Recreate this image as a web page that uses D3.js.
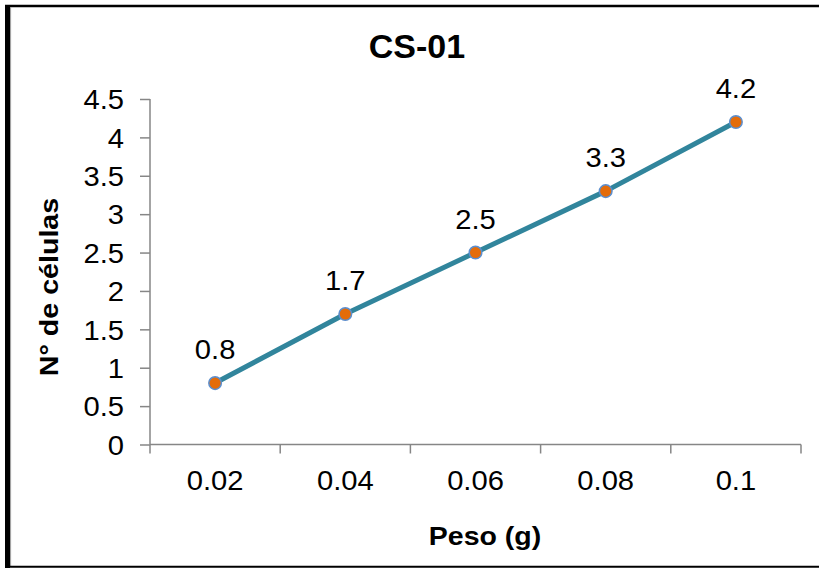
<!DOCTYPE html>
<html>
<head>
<meta charset="utf-8">
<script src="https://cdn.jsdelivr.net/npm/d3@7/dist/d3.min.js"></script>
<style>
  html, body { margin: 0; padding: 0; background: #fff; }
  svg { display: block; }
  text { font-family: "Liberation Sans", Arial, sans-serif; fill: #000; }
</style>
</head>
<body>
<svg id="chart" width="819" height="568"></svg>
<script>
// Cell counts measured for each sample weight
const pesos = ["0.02", "0.04", "0.06", "0.08", "0.1"];
const celulas = [0.8, 1.7, 2.5, 3.3, 4.2];
const yTicks = [0, 0.5, 1, 1.5, 2, 2.5, 3, 3.5, 4, 4.5];
const titulo = "CS-01";
const tituloX = "Peso (g)";
const tituloY = "N° de células";

const svg = d3.select("#chart");
const W = 819, H = 568;
const m = { left: 150, right: 18, top: 99, bottom: 123.5 };
const stretch = 1.08; // slightly wide number glyphs

// Frame around the chart area
svg.append("rect").attr("x", 0).attr("y", 0).attr("width", W).attr("height", H).attr("fill", "#fff");
svg.append("line").attr("x1", 5).attr("x2", W).attr("y1", 6).attr("y2", 6)
  .attr("stroke", "#000").attr("stroke-width", 2.5);
svg.append("line").attr("x1", 7.5).attr("x2", 7.5).attr("y1", 5).attr("y2", 568)
  .attr("stroke", "#000").attr("stroke-width", 5);
svg.append("line").attr("x1", 10.6).attr("x2", 10.6).attr("y1", 7).attr("y2", 566)
  .attr("stroke", "#9a9a9a").attr("stroke-width", 1);
svg.append("line").attr("x1", 5).attr("x2", W).attr("y1", 566.8).attr("y2", 566.8)
  .attr("stroke", "#000").attr("stroke-width", 2);

const x = d3.scaleBand().domain(pesos).range([m.left, W - m.right]);
const y = d3.scaleLinear().domain([0, 4.5]).range([H - m.bottom, m.top]);

const axisColor = "#868686";
const tickFont = 27;

// Y axis
const gy = svg.append("g").attr("transform", `translate(${m.left},0)`)
  .call(d3.axisLeft(y).tickValues(yTicks).tickSize(10).tickPadding(16)
    .tickFormat(d => String(d)));
gy.select(".domain").attr("stroke", axisColor).attr("stroke-width", 1.5)
  .attr("d", `M0,${y(4.5)}V${y(0)}`);
gy.selectAll(".tick line").attr("stroke", axisColor).attr("stroke-width", 1.5);
gy.selectAll(".tick text").attr("font-size", tickFont).attr("font-family", "Liberation Sans, Arial, sans-serif")
  .attr("fill", "#000").attr("dy", "0.36em")
  .attr("x", -26 / stretch).attr("transform", `scale(${stretch},1)`);

// X axis: ticks sit on category boundaries
const gx = svg.append("g").attr("transform", `translate(0,${y(0)})`)
  .call(d3.axisBottom(x).tickSize(0).tickPadding(26));
gx.select(".domain").attr("stroke", axisColor).attr("stroke-width", 1.5)
  .attr("d", `M${m.left},0H${W - m.right}`);
gx.selectAll(".tick text").attr("font-size", tickFont).attr("font-family", "Liberation Sans, Arial, sans-serif")
  .attr("fill", "#000").attr("dy", "0.71em").attr("transform", `scale(${stretch},1)`);
const bounds = pesos.map(p => x(p)).concat([x(pesos[pesos.length - 1]) + x.bandwidth()]);
gx.selectAll(".bound").data(bounds).enter().append("line")
  .attr("x1", d => d).attr("x2", d => d).attr("y1", 0).attr("y2", 9)
  .attr("stroke", axisColor).attr("stroke-width", 1.5);

// Series line and markers
const cx = d => x(d.p) + x.bandwidth() / 2;
const pts = pesos.map((p, i) => ({ p, v: celulas[i] }));
svg.append("path").datum(pts)
  .attr("fill", "none").attr("stroke", "#31859c").attr("stroke-width", 5)
  .attr("stroke-linejoin", "round")
  .attr("d", d3.line().x(cx).y(d => y(d.v)));
svg.selectAll(".pt").data(pts).enter().append("circle")
  .attr("cx", cx).attr("cy", d => y(d.v)).attr("r", 6.3)
  .attr("fill", "#e46c0a").attr("stroke", "#5b8fd0").attr("stroke-width", 1.5);

// Value labels above each point
svg.selectAll(".lbl").data(pts).enter().append("text")
  .attr("transform", d => `translate(${cx(d)},${y(d.v) - 24}) scale(${stretch},1)`)
  .attr("text-anchor", "middle").attr("font-size", tickFont)
  .text(d => String(d.v));

// Titles
svg.append("text").attr("x", 417).attr("y", 58).attr("text-anchor", "middle")
  .attr("font-size", 34).attr("font-weight", "bold").text(titulo);
svg.append("text").attr("transform", "translate(485,545) scale(1.14,1)")
  .attr("text-anchor", "middle").attr("font-size", 25).attr("font-weight", "bold").text(tituloX);
svg.append("text").attr("transform", "translate(58,287) rotate(-90) scale(1.1,1)")
  .attr("text-anchor", "middle").attr("font-size", 26).attr("font-weight", "bold").text(tituloY);
</script>
</body>
</html>
